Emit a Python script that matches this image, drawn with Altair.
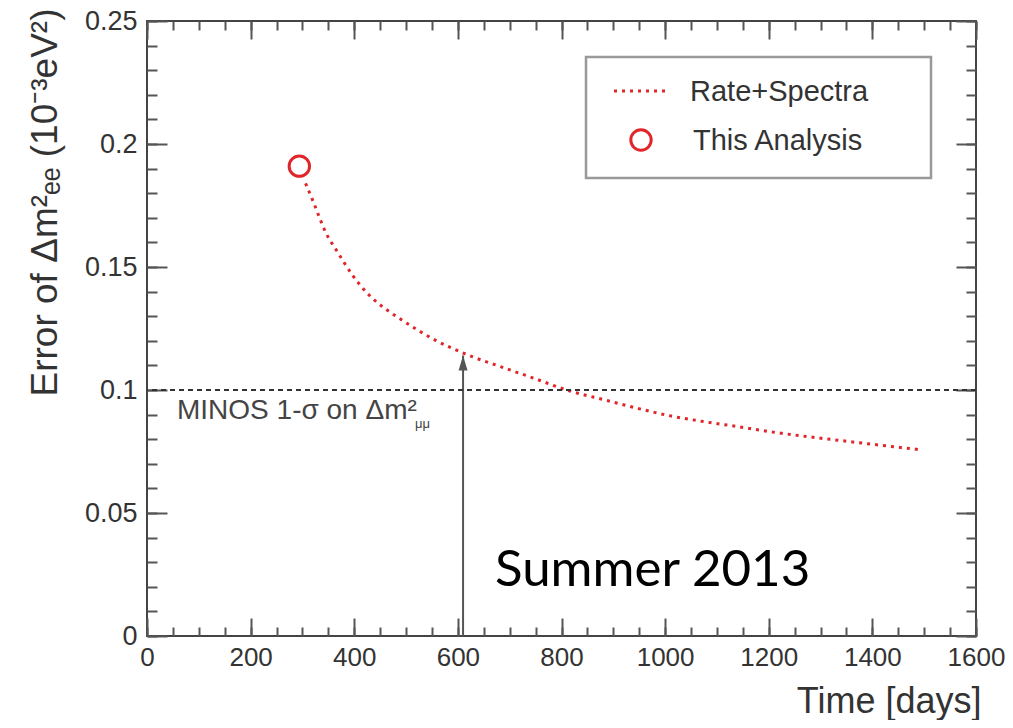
import altair as alt
import pandas as pd

# ---- data ----
days = [306, 320, 333, 345, 365, 397, 429, 464, 493, 557, 621, 685, 749, 813,
        883, 948, 1012, 1076, 1141, 1204, 1269, 1333, 1397, 1490]
err = [0.184, 0.177, 0.170, 0.164, 0.157, 0.1466, 0.1385, 0.1324, 0.1283, 0.1202,
       0.1141, 0.1093, 0.1046, 0.0998, 0.0960, 0.0925, 0.0894, 0.0871, 0.0851,
       0.0830, 0.0812, 0.0796, 0.0780, 0.0758]
analysis_day = [294]
analysis_err = [0.191]
minos_level = [0.1]
arrow_day = [610]
arrow_base = [0.0]
arrow_tip = [0.114]
x_major = [0, 200, 400, 600, 800, 1000, 1200, 1400, 1600]
x_minor = [i * 50 for i in range(33)]
y_major = [0, 0.05, 0.1, 0.15, 0.2, 0.25]
y_minor = [round(i * 0.01, 2) for i in range(26)]

RED = "#e0262b"
FONT = "Liberation Sans"
W, H = 829, 615

curve_df = pd.DataFrame({"day": days, "err": err})
ana_df = pd.DataFrame({"day": analysis_day, "err": analysis_err})
minos_df = pd.DataFrame({"level": minos_level})
arrow_df = pd.DataFrame({"day": arrow_day, "base": arrow_base, "tip": arrow_tip})
one = pd.DataFrame({"a": [0]})

xs = alt.Scale(domain=[0, 1600], nice=False, zero=False)
ys = alt.Scale(domain=[0, 0.25], nice=False, zero=False)

common = dict(domain=False, grid=False, tickColor="#555", tickWidth=2, labelFlush=False,
              labelBound=False, labelOverlap=False)

ax_xb_major = alt.Axis(orient="bottom", values=x_major, offset=-18, tickSize=18, format="d",
                       labelFontSize=26, labelFont=FONT, labelColor="#333", labelPadding=8,
                       title="Time [days]", titleFont=FONT, titleFontSize=36,
                       titleFontWeight="normal", titleColor="#333", titleX=834, titleY=94,
                       titleAlign="right", titleBaseline="alphabetic", **common)
ax_xb_minor = alt.Axis(orient="bottom", values=x_minor, offset=-9, tickSize=9,
                       labels=False, title=None, **common)
ax_xt_major = alt.Axis(orient="top", values=x_major, offset=-18, tickSize=18,
                       labels=False, title=None, **common)
ax_xt_minor = alt.Axis(orient="top", values=x_minor, offset=-9, tickSize=9,
                       labels=False, title=None, **common)

ax_yl_major = alt.Axis(orient="left", values=y_major, offset=-20, tickSize=20, format="~g",
                       labelFontSize=27, labelFont=FONT, labelColor="#333", labelPadding=10,
                       title="Error of   Δm²ₑₑ (10⁻³eV²)", titleFont=FONT, titleFontSize=37,
                       titleFontWeight="normal", titleColor="#333", titleAngle=270,
                       titleX=-111, titleY=-13, titleAlign="right",
                       titleBaseline="alphabetic", **common)
ax_yl_minor = alt.Axis(orient="left", values=y_minor, offset=-10, tickSize=10,
                       labels=False, title=None, **common)
ax_yr_major = alt.Axis(orient="right", values=y_major, offset=-20, tickSize=20,
                       labels=False, title=None, **common)
ax_yr_minor = alt.Axis(orient="right", values=y_minor, offset=-10, tickSize=10,
                       labels=False, title=None, **common)

curve = alt.Chart(curve_df).mark_line(
    color=RED, strokeWidth=3, strokeDash=[3, 5], interpolate="monotone"
).encode(
    x=alt.X("day:Q", scale=xs, axis=ax_xb_major),
    y=alt.Y("err:Q", scale=ys, axis=ax_yl_major),
)

circle = alt.Chart(ana_df).mark_point(
    shape="circle", filled=False, color=RED, strokeWidth=3, size=415, opacity=1
).encode(
    x=alt.X("day:Q", scale=xs, axis=ax_xb_minor),
    y=alt.Y("err:Q", scale=ys, axis=ax_yl_minor),
)

arrow_line = alt.Chart(arrow_df).mark_rule(color="#555", strokeWidth=2).encode(
    x=alt.X("day:Q", scale=xs, axis=ax_xt_major),
    y=alt.Y("base:Q", scale=ys, axis=ax_yr_major),
    y2="tip:Q",
)

arrow_head = alt.Chart(arrow_df).mark_point(
    shape="M0,0L0.6,2L-0.6,2Z", filled=True, color="#555", size=225, opacity=1
).encode(
    x=alt.X("day:Q", scale=xs, axis=ax_xt_minor),
    y=alt.Y("tip:Q", scale=ys, axis=ax_yr_minor),
)

minos_line = alt.Chart(minos_df).mark_rule(
    color="#333", strokeWidth=2, strokeDash=[5, 4]
).encode(y=alt.Y("level:Q", scale=ys, axis=None))

minos_text = alt.Chart(one).mark_text(
    align="left", baseline="alphabetic", font=FONT, fontSize=28, color="#444"
).encode(x=alt.value(30), y=alt.value(398), text=alt.value("MINOS 1-σ on Δm²"))

minos_sub = alt.Chart(one).mark_text(
    align="left", baseline="alphabetic", font=FONT, fontSize=13, color="#444"
).encode(x=alt.value(268), y=alt.value(407), text=alt.value("μμ"))

summer = alt.Chart(one).mark_text(
    align="left", baseline="alphabetic", font="Lato", fontSize=51, color="black"
).encode(x=alt.value(348), y=alt.value(565), text=alt.value("Summer 2013"))

# ---- legend ----
leg_box = alt.Chart(one).mark_rect(fill="white", stroke="#999", strokeWidth=2.5).encode(
    x=alt.value(439), x2=alt.value(784), y=alt.value(36), y2=alt.value(157)
)
leg_line = alt.Chart(one).mark_rule(color=RED, strokeWidth=3, strokeDash=[3, 5]).encode(
    x=alt.value(467), x2=alt.value(522), y=alt.value(70)
)
leg_circle = alt.Chart(one).mark_point(
    shape="circle", filled=False, color=RED, strokeWidth=3, size=415, opacity=1
).encode(x=alt.value(494), y=alt.value(119))
leg_t1 = alt.Chart(one).mark_text(
    align="left", baseline="alphabetic", font=FONT, fontSize=29, color="#333"
).encode(x=alt.value(543), y=alt.value(80), text=alt.value("Rate+Spectra"))
leg_t2 = alt.Chart(one).mark_text(
    align="left", baseline="alphabetic", font=FONT, fontSize=29, color="#333"
).encode(x=alt.value(546), y=alt.value(129), text=alt.value("This Analysis"))

chart = alt.layer(
    curve, circle, arrow_line, arrow_head, minos_line, minos_text, minos_sub, summer,
    leg_box, leg_line, leg_circle, leg_t1, leg_t2
).resolve_axis(
    x="independent", y="independent"
).properties(
    width=W, height=H,
    autosize=alt.AutoSizeParams(type="none"),
    padding={"left": 139, "top": 13, "right": 29, "bottom": 84},
    background="white",
).configure_view(stroke="#444", strokeWidth=2)

chart.save("out.html", embed_options={"renderer": "svg", "actions": False})
